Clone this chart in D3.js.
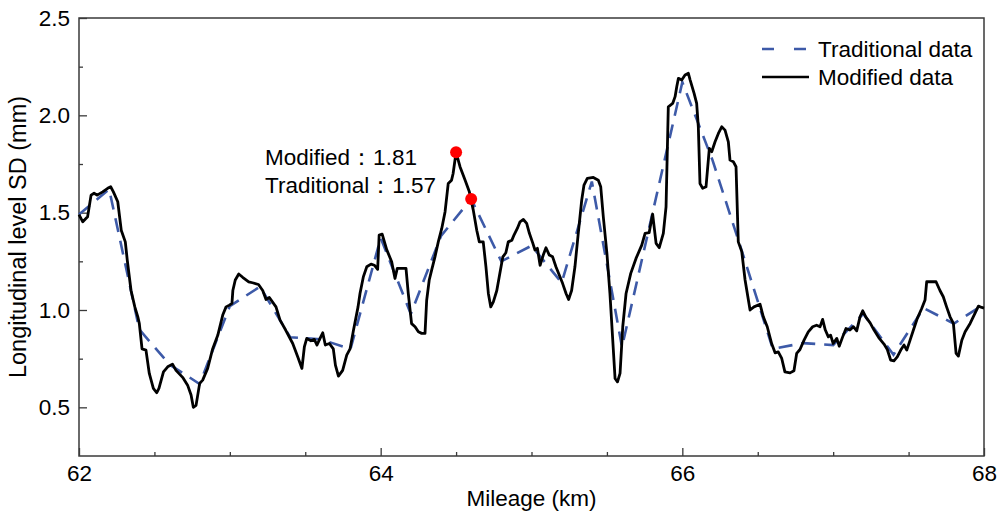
<!DOCTYPE html>
<html>
<head>
<meta charset="utf-8">
<script src="https://cdn.jsdelivr.net/npm/d3@7"></script>
<style>
  body { margin: 0; background: #fff; }
  svg { display: block; }
  text { font-family: Arial, "Liberation Sans", sans-serif; }
</style>
</head>
<body>
<script>
// mileage (km) of the modified (sliding) series
var modifiedKm = [62.000,62.025,62.057,62.080,62.100,62.120,62.157,62.190,62.210,62.228,62.257,62.280,62.307,62.320,62.345,62.370,62.390,62.400,62.418,62.444,
  62.466,62.493,62.515,62.530,62.560,62.588,62.620,62.643,62.687,62.720,62.743,62.758,62.776,62.800,62.820,62.853,62.886,62.920,62.953,62.975,
  62.997,63.014,63.020,63.036,63.059,63.085,63.125,63.150,63.190,63.218,63.240,63.262,63.306,63.333,63.370,63.417,63.450,63.478,63.494,63.510,
  63.538,63.560,63.578,63.598,63.616,63.633,63.660,63.686,63.700,63.720,63.748,63.775,63.797,63.820,63.850,63.863,63.885,63.908,63.936,63.958,
  63.980,63.990,64.010,64.040,64.073,64.095,64.110,64.140,64.168,64.183,64.205,64.228,64.250,64.272,64.294,64.305,64.322,64.338,64.360,64.382,
  64.405,64.427,64.448,64.470,64.480,64.500,64.526,64.560,64.588,64.614,64.637,64.654,64.680,64.698,64.714,64.730,64.747,64.770,64.790,64.810,
  64.830,64.846,64.870,64.884,64.906,64.924,64.946,64.968,64.986,65.008,65.023,65.039,65.057,65.078,65.096,65.118,65.140,65.162,65.184,65.206,
  65.229,65.246,65.266,65.288,65.310,65.333,65.348,65.370,65.410,65.443,65.459,65.476,65.500,65.520,65.540,65.554,65.570,65.587,65.605,65.627,
  65.658,65.693,65.731,65.753,65.780,65.803,65.826,65.847,65.874,65.892,65.907,65.936,65.952,65.963,65.974,65.996,66.018,66.040,66.052,66.078,
  66.095,66.106,66.117,66.135,66.157,66.179,66.195,66.217,66.239,66.261,66.283,66.305,66.316,66.338,66.356,66.371,66.394,66.416,66.449,66.475,
  66.515,66.537,66.563,66.592,66.615,66.636,66.659,66.680,66.714,66.740,66.758,66.780,66.807,66.835,66.864,66.890,66.913,66.930,66.948,66.968,
  66.983,67.000,67.024,67.040,67.063,67.085,67.111,67.134,67.156,67.178,67.196,67.218,67.245,67.271,67.306,67.337,67.359,67.381,67.403,67.425,
  67.448,67.470,67.488,67.510,67.532,67.558,67.587,67.609,67.620,67.653,67.682,67.708,67.730,67.752,67.775,67.797,67.815,67.830,67.853,67.875,
  67.908,67.940,67.963,67.985,68.000];
// longitudinal level SD (mm) of the modified series
var modifiedSD = [1.490,1.453,1.479,1.590,1.600,1.590,1.607,1.625,1.633,1.607,1.556,1.410,1.350,1.256,1.100,1.016,0.965,0.930,0.800,0.794,
  0.674,0.597,0.575,0.597,0.682,0.708,0.722,0.690,0.654,0.614,0.563,0.500,0.510,0.623,0.640,0.700,0.800,0.870,0.974,1.016,
  1.025,1.034,1.100,1.154,1.185,1.168,1.145,1.140,1.131,1.100,1.054,1.064,1.016,0.948,0.897,0.828,0.760,0.700,0.810,0.854,
  0.842,0.849,0.820,0.854,0.883,0.820,0.828,0.800,0.717,0.660,0.690,0.768,0.800,0.897,1.016,1.085,1.170,1.222,1.236,1.230,
  1.209,1.385,1.390,1.310,1.248,1.162,1.214,1.214,1.214,1.085,0.930,0.914,0.888,0.880,0.880,1.050,1.154,1.205,1.273,1.350,
  1.419,1.505,1.650,1.667,1.700,1.810,1.736,1.667,1.607,1.513,1.410,1.350,1.350,1.222,1.085,1.016,1.042,1.100,1.188,1.273,
  1.294,1.350,1.359,1.385,1.419,1.453,1.465,1.445,1.394,1.345,1.308,1.317,1.230,1.282,1.320,1.282,1.273,1.222,1.180,1.137,
  1.085,1.054,1.100,1.222,1.394,1.565,1.642,1.676,1.681,1.667,1.633,1.479,1.291,1.085,0.828,0.648,0.631,0.674,0.914,1.085,
  1.188,1.265,1.333,1.394,1.397,1.493,1.342,1.320,1.394,1.530,2.044,2.061,2.096,2.147,2.190,2.181,2.207,2.216,2.181,2.113,
  2.061,1.941,1.650,1.625,1.633,1.830,1.813,1.864,1.907,1.941,1.924,1.864,1.770,1.762,1.736,1.350,1.300,1.154,1.000,1.016,
  1.030,0.965,0.914,0.828,0.780,0.785,0.751,0.682,0.677,0.688,0.777,0.797,0.845,0.888,0.914,0.922,0.914,0.952,0.897,0.862,
  0.871,0.828,0.854,0.814,0.862,0.905,0.897,0.914,0.893,0.965,0.996,0.962,0.934,0.897,0.854,0.825,0.797,0.743,0.739,0.759,
  0.794,0.820,0.794,0.845,0.897,0.957,1.008,1.051,1.145,1.145,1.145,1.100,1.068,1.016,0.965,0.931,0.777,0.763,0.845,0.888,
  0.931,0.983,1.020,1.013,1.010];

// traditional series, one value per 200 m unit
var traditionalKm = [62.0,62.2,62.4,62.6,62.8,63.0,63.2,63.4,63.6,63.8,64.0,64.2,64.4,64.6,64.8,65.0,
  65.2,65.4,65.6,65.8,66.0,66.2,66.4,66.6,66.8,67.0,67.2,67.4,67.6,67.8,68.0];
var traditionalSD = [1.49,1.62,0.90,0.72,0.62,1.02,1.12,0.86,0.85,0.80,1.37,0.98,1.38,1.57,1.25,1.33,
  1.14,1.66,0.81,1.49,2.17,1.77,1.29,0.80,0.83,0.82,0.98,0.77,1.01,0.93,1.03];

// tick values
var xMajorTicks = [62, 64, 66, 68];
var xMinorTicks = [62.5, 63, 63.5, 64.5, 65, 65.5, 66.5, 67, 67.5];
var yMajorTicks = [0.5, 1.0, 1.5, 2.0, 2.5];
var yMinorTicks = [0.75, 1.25, 1.75, 2.25];

// highlighted maxima
var markKm = [64.5, 64.6];
var markSD = [1.81, 1.57];
var markLabels = ["Modified\uFF1A1.81", "Traditional\uFF1A1.57"];

var margin = {top: 18, right: 18, bottom: 60, left: 79},
    width = 1002 - margin.left - margin.right,
    height = 516 - margin.top - margin.bottom;

var svg = d3.select("body").append("svg")
    .attr("width", 1002)
    .attr("height", 516)
  .append("g")
    .attr("transform", "translate(" + margin.left + "," + margin.top + ")");

var x = d3.scaleLinear().domain([62, 68]).range([0, width]);
var y = d3.scaleLinear().domain([0.25, 2.5]).range([height, 0]);

var axisColor = "#3a3a3a";
var fontSize = 22.5;

// frame
svg.append("rect")
    .attr("width", width)
    .attr("height", height)
    .attr("fill", "none")
    .attr("stroke", axisColor)
    .attr("stroke-width", 1.5);

// axes, ticks pointing inward
function styleAxis(g) {
  g.select(".domain").remove();
  g.selectAll(".tick line").attr("stroke", axisColor).attr("stroke-width", 1.3);
  g.selectAll(".tick text").attr("fill", "#000").style("font-size", fontSize + "px");
}

svg.append("g")
    .attr("transform", "translate(0," + height + ")")
    .call(d3.axisBottom(x).tickValues(xMajorTicks).tickSize(-8).tickPadding(9).tickFormat(d3.format("d")))
    .call(styleAxis);
svg.append("g")
    .attr("transform", "translate(0," + height + ")")
    .call(d3.axisBottom(x).tickValues(xMinorTicks).tickSize(-4).tickFormat(""))
    .call(styleAxis);
svg.append("g")
    .call(d3.axisLeft(y).tickValues(yMajorTicks).tickSize(-8).tickPadding(9).tickFormat(d3.format(".1f")))
    .call(styleAxis);
svg.append("g")
    .call(d3.axisLeft(y).tickValues(yMinorTicks).tickSize(-4).tickFormat(""))
    .call(styleAxis);

// axis titles
svg.append("text")
    .attr("x", width / 2)
    .attr("y", height + 50)
    .attr("text-anchor", "middle")
    .style("font-size", fontSize + "px")
    .text("Mileage (km)");
svg.append("text")
    .attr("transform", "rotate(-90)")
    .attr("x", -height / 2)
    .attr("y", -53)
    .attr("text-anchor", "middle")
    .style("font-size", "23.5px")
    .text("Longitudinal level SD (mm)");

var line = d3.line()
    .x(function(d) { return x(d[0]); })
    .y(function(d) { return y(d[1]); });

var traditional = traditionalKm.map(function(k, i) { return [k, traditionalSD[i]]; });
var modified = modifiedKm.map(function(k, i) { return [k, modifiedSD[i]]; });

svg.append("path")
    .datum(traditional)
    .attr("fill", "none")
    .attr("stroke", "#3d5aa8")
    .attr("stroke-width", 2.6)
    .attr("stroke-dasharray", "14,9")
    .attr("d", line);

svg.append("path")
    .datum(modified)
    .attr("fill", "none")
    .attr("stroke", "#000")
    .attr("stroke-width", 2.8)
    .attr("stroke-linejoin", "round")
    .attr("d", line);

// red markers + labels
svg.selectAll(".mark")
    .data(markKm)
  .enter().append("circle")
    .attr("class", "mark")
    .attr("cx", function(d) { return x(d); })
    .attr("cy", function(d, i) { return y(markSD[i]); })
    .attr("r", 6)
    .attr("fill", "#ff0000");

svg.selectAll(".markLabel")
    .data(markLabels)
  .enter().append("text")
    .attr("class", "markLabel")
    .attr("x", x(64.5) - 191)
    .attr("y", function(d, i) { return y(markSD[0]) + 13 + i * 28; })
    .style("font-size", fontSize + "px")
    .text(function(d) { return d; });

// legend
var legend = svg.append("g").attr("transform", "translate(" + (width - 222) + ",31)");
var legendItems = [
  {name: "Traditional data", color: "#3d5aa8", dash: "12,20"},
  {name: "Modified data", color: "#000", dash: null}
];
legendItems.forEach(function(item, i) {
  legend.append("line")
      .attr("x1", 0).attr("x2", 47)
      .attr("y1", i * 28).attr("y2", i * 28)
      .attr("stroke", item.color)
      .attr("stroke-width", 2.6)
      .attr("stroke-dasharray", item.dash);
  legend.append("text")
      .attr("x", 56)
      .attr("y", i * 28)
      .attr("dy", "0.35em")
      .style("font-size", fontSize + "px")
      .text(item.name);
});
</script>
</body>
</html>
